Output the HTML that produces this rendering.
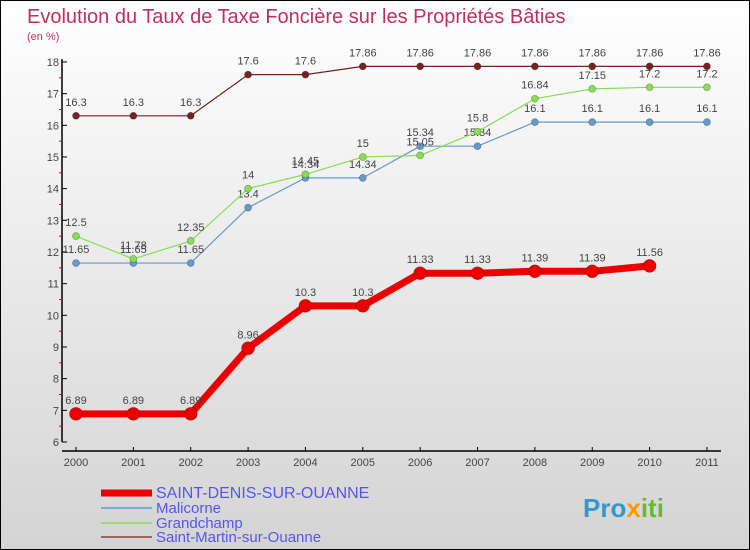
<!DOCTYPE html>
<html><head><meta charset="utf-8"><style>
body{margin:0;}
#c{width:748px;height:548px;border:1px solid #000;background:linear-gradient(#ffffff,#d4d4d4);position:relative;overflow:hidden;font-family:"Liberation Sans",sans-serif;}
</style></head><body>
<div id="c">
<svg id="s" width="748" height="548" style="position:absolute;left:0;top:0">
<text x="26" y="22" font-size="20" fill="#c0305e">Evolution du Taux de Taxe Foncière sur les Propriétés Bâties</text>
<text x="26" y="39" font-size="11" fill="#c0305e">(en %)</text>
<g id="axes"></g><g id="series"></g><g id="legend"></g>
<text x="582" y="516" font-size="26" font-weight="bold" fill="#3399cc">Pro<tspan fill="#ff9900">x</tspan><tspan fill="#66bb33">iti</tspan></text>
</svg>
</div>
<script>
const years=[2000,2001,2002,2003,2004,2005,2006,2007,2008,2009,2010,2011];
const yTicks=[6,7,8,9,10,11,12,13,14,15,16,17,18];
const saintDenis=[6.89,6.89,6.89,8.96,10.3,10.3,11.33,11.33,11.39,11.39,11.56];
const malicorne=[11.65,11.65,11.65,13.4,14.34,14.34,15.34,15.34,16.1,16.1,16.1,16.1];
const grandchamp=[12.5,11.78,12.35,14,14.45,15,15.05,15.8,16.84,17.15,17.2,17.2];
const saintMartin=[16.3,16.3,16.3,17.6,17.6,17.86,17.86,17.86,17.86,17.86,17.86,17.86];
const NS="http://www.w3.org/2000/svg";
function X(i){return 75+i*57.36;}
function Y(v){return 441-(v-6)*31.67;}
function mk(t,a,p){const e=document.createElementNS(NS,t);for(const k in a)e.setAttribute(k,a[k]);p.appendChild(e);return e;}
const ax=document.getElementById('axes');
let l=mk('line',{x1:61,y1:58,x2:61,y2:441,stroke:'#000','stroke-width':1.5},ax);


l=mk('line',{x1:61,y1:450,x2:720,y2:450,stroke:'#000','stroke-width':1.5},ax);


yTicks.forEach((v,i)=>{
  mk('line',{x1:61,y1:Y(v),x2:66,y2:Y(v),stroke:'#000'},ax);
  if(i<yTicks.length-1)mk('line',{x1:58,y1:Y(v+0.5),x2:61,y2:Y(v+0.5),stroke:'#e00'},ax);
  const t=mk('text',{x:58,y:Y(v)+4,'font-size':11,fill:'#444','text-anchor':'end'},ax);t.textContent=v;
  
  
});
years.forEach((y,i)=>{
  mk('line',{x1:X(i),y1:446,x2:X(i),y2:450,stroke:'#000'},ax);
  const t=mk('text',{x:X(i),y:465,'font-size':11,fill:'#444','text-anchor':'middle'},ax);t.textContent=y;
  
  
});
const sg=document.getElementById('series');
function draw(data,color,w,r,name){
  const g=mk('g',{},sg);
  
  
  mk('polyline',{points:data.map((v,i)=>X(i)+','+Y(v)).join(' '),fill:'none',stroke:color,'stroke-width':w,'stroke-linejoin':'round'},g);
  data.forEach((v,i)=>{
    const c=mk('circle',{cx:X(i),cy:Y(v),r:r,fill:color,stroke:'rgba(0,0,0,0.3)','stroke-width':0.7},g);
    
    
    const t=mk('text',{x:X(i),y:Y(v)-10,'font-size':11,fill:'#444','text-anchor':'middle'},g);
    t.textContent=String(v);
    
    
  });
}
draw(saintMartin,'#772222',1.2,3.5,'series-saint-martin');
draw(malicorne,'#6699cc',1.2,3.5,'series-malicorne');
draw(grandchamp,'#88dd55',1.2,3.5,'series-grandchamp');
draw(saintDenis,'#ee0000',7,6.5,'series-saint-denis');
const lg=document.getElementById('legend');
const items=[['SAINT-DENIS-SUR-OUANNE','#ee0000',7,497,16],['Malicorne','#77aadd',2,512,15],['Grandchamp','#99dd77',2,527,15],['Saint-Martin-sur-Ouanne','#996666',2,541,15]];
items.forEach(it=>{
  const g=mk('g',{},lg);
  
  
  mk('line',{x1:100,y1:it[3]-5,x2:151,y2:it[3]-5,stroke:it[1],'stroke-width':it[2]},g);
  const t=mk('text',{x:155,y:it[3],'font-size':it[4],fill:'#5555ee'},g);t.textContent=it[0];
});
</script>
</body></html>
